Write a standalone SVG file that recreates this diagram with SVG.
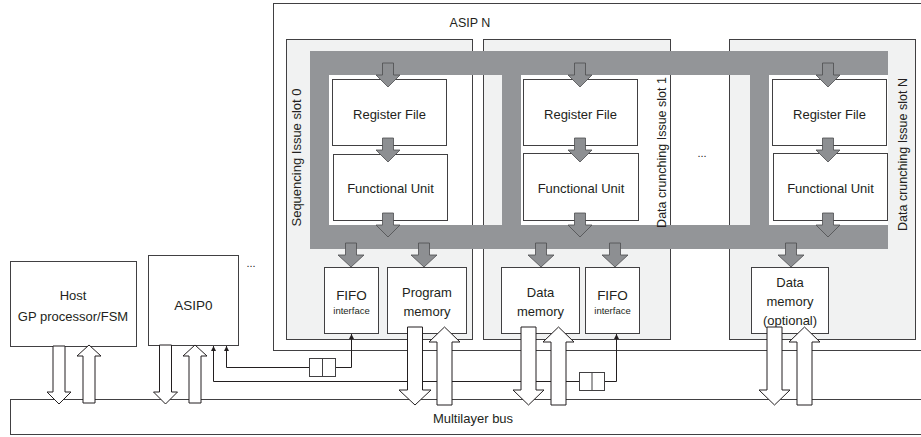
<svg xmlns="http://www.w3.org/2000/svg" xmlns:xlink="http://www.w3.org/1999/xlink" width="921" height="437" viewBox="0 0 921 437">
<style>
text{font-family:"Liberation Sans",Arial,sans-serif;fill:#231f20;font-size:13px;text-anchor:middle}
.box{fill:#fff;stroke:#414042;stroke-width:1}
.slot{fill:#f1f2f2;stroke:#414042;stroke-width:1}
.bar{fill:#939598}
.inner{fill:#fff}
.ga{fill:#8d8f92;stroke:#4d4d4f;stroke-width:0.8}
.wa{fill:#fff;stroke:#231f20;stroke-width:1}
.ln{fill:none;stroke:#231f20;stroke-width:1}
.sm{font-size:9.5px}
</style>
<defs>
<path id="gat" d="M-5.5,-24 H5.5 V-12 H12 L0,0 L-12,-12 H-5.5 Z"/>
<path id="gab" d="M-5.5,-24 H5.5 V-12 H13 L0,0 L-13,-12 H-5.5 Z"/>
<marker id="ah" viewBox="0 0 10 10" refX="10" refY="5" markerWidth="6" markerHeight="5" orient="auto" markerUnits="userSpaceOnUse"><path d="M0,0 L10,5 L0,10 Z" fill="#231f20"/></marker>
</defs>

<g id="bus">
<rect x="10.5" y="399.5" width="920" height="35" class="box"/>
<text x="473" y="423">Multilayer bus</text>
</g>

<g id="asipN">
<rect x="273.5" y="3.5" width="660" height="347" class="box"/>
<text x="470" y="27" style="font-size:12.5px">ASIP N</text>
</g>

<g id="slot0">
<rect x="286.5" y="39.5" width="186" height="300" class="slot"/>
</g>
<g id="slot1">
<rect x="483.5" y="39.5" width="187" height="300" class="slot"/>
</g>
<g id="slotN">
<rect x="729.5" y="39.5" width="186" height="300" class="slot"/>
</g>

<g id="pipeline">
<rect x="329" y="75" width="143" height="150" class="inner"/>
<rect x="521" y="75" width="149" height="150" class="inner"/>
<rect x="769" y="75" width="119" height="150" class="inner"/>
<rect x="310" y="51" width="578" height="24" class="bar"/>
<rect x="310" y="225" width="578" height="24" class="bar"/>
<rect x="310" y="51" width="19" height="198" class="bar"/>
<rect x="502" y="51" width="19" height="198" class="bar"/>
<rect x="750" y="51" width="19" height="198" class="bar"/>
</g>

<text transform="translate(301,157.5) rotate(-90)">Sequencing Issue slot 0</text>
<text transform="translate(665.5,152.5) rotate(-90)" style="font-size:12.5px">Data crunching Issue slot 1</text>
<text transform="translate(907,154.5) rotate(-90)" style="font-size:12.5px">Data crunching Issue slot N</text>
<text x="702" y="157" style="font-size:11px">...</text>

<g id="rf0"><rect x="332.5" y="79.5" width="114" height="66" class="box"/><text x="389.5" y="118.5">Register File</text></g>
<g id="fu0"><rect x="333.5" y="154.5" width="114" height="66" class="box"/><text x="390.5" y="193">Functional Unit</text></g>
<g id="rf1"><rect x="523.5" y="79.5" width="114" height="66" class="box"/><text x="580.5" y="118.5">Register File</text></g>
<g id="fu1"><rect x="523.5" y="153.5" width="115" height="67" class="box"/><text x="581" y="193">Functional Unit</text></g>
<g id="rfN"><rect x="772.5" y="79.5" width="114" height="66" class="box"/><text x="829.5" y="118.5">Register File</text></g>
<g id="fuN"><rect x="773.5" y="153.5" width="114" height="67" class="box"/><text x="830.5" y="193">Functional Unit</text></g>

<g id="fifo0"><rect x="324.5" y="267.5" width="54" height="66" class="box"/><text x="351.5" y="300" style="font-size:13.5px">FIFO</text><text x="351.5" y="314" class="sm">interface</text></g>
<g id="pmem"><rect x="387.5" y="267.5" width="79" height="66" class="box"/><text x="427" y="297">Program</text><text x="427" y="316">memory</text></g>
<g id="dmem1"><rect x="501.5" y="267.5" width="78" height="66" class="box"/><text x="540.5" y="297">Data</text><text x="540.5" y="316">memory</text></g>
<g id="fifo1"><rect x="585.5" y="267.5" width="54" height="66" class="box"/><text x="612.5" y="299.5" style="font-size:13.5px">FIFO</text><text x="612.5" y="314" class="sm">interface</text></g>
<g id="dmemN"><rect x="751.5" y="267.5" width="77" height="66" class="box"/><text x="790" y="287">Data</text><text x="790" y="306">memory</text><text x="790" y="325">(optional)</text></g>

<g id="host"><rect x="10.5" y="261.5" width="126" height="85" class="box"/><text x="73" y="300">Host</text><text x="73" y="321">GP processor/FSM</text></g>
<g id="asip0"><rect x="148.5" y="255.5" width="90" height="90" class="box"/><text x="193.5" y="310" style="font-size:13.5px">ASIP0</text></g>
<text x="251" y="267" style="font-size:11px">...</text>

<g id="connectors">
<use xlink:href="#gat" x="388" y="87" class="ga"/>
<use xlink:href="#gat" x="388" y="162" class="ga"/>
<use xlink:href="#gat" x="388" y="237" class="ga"/>
<use xlink:href="#gat" x="580" y="87" class="ga"/>
<use xlink:href="#gat" x="580" y="162" class="ga"/>
<use xlink:href="#gat" x="580" y="237" class="ga"/>
<use xlink:href="#gat" x="828" y="87" class="ga"/>
<use xlink:href="#gat" x="828" y="162" class="ga"/>
<use xlink:href="#gat" x="828" y="237" class="ga"/>
<use xlink:href="#gab" x="351" y="267" class="ga"/>
<use xlink:href="#gab" x="424" y="267" class="ga"/>
<use xlink:href="#gab" x="541" y="267" class="ga"/>
<use xlink:href="#gab" x="615" y="267" class="ga"/>
<use xlink:href="#gab" x="791" y="267" class="ga"/>

<path class="ln" d="M309,367.5 H226.5 V346" marker-end="url(#ah)"/>
<path class="ln" d="M335,367.5 H351.5 V334" marker-end="url(#ah)"/>
<path class="ln" d="M579,381.5 H213.5 V346" marker-end="url(#ah)"/>
<path class="ln" d="M604,381.5 H616.5 V334" marker-end="url(#ah)"/>
<g class="box">
<rect x="309.5" y="358.5" width="26" height="18"/>
<line x1="322.5" y1="358.5" x2="322.5" y2="376.5"/>
<rect x="579.5" y="372.5" width="25" height="18"/>
<line x1="592" y1="372.5" x2="592" y2="390.5"/>
</g>

<path class="wa" d="M53,346 H65 V392 H71 L59,404 L47,392 H53 Z"/>
<path class="wa" d="M83,403 H95 V356 H101 L89,345 L77,356 H83 Z"/>
<path class="wa" d="M159.5,345 H171.5 V392 H177.5 L165.5,404 L153.5,392 H159.5 Z"/>
<path class="wa" d="M189,403 H201 V356 H207 L195,345 L183,356 H189 Z"/>
<path class="wa" d="M407.5,327 H422.5 V390 H431 L415,405 L399,390 H407.5 Z"/>
<path class="wa" d="M437,405 H452 V342 H460 L444.5,327 L429,342 H437 Z"/>
<path class="wa" d="M521,327 H536 V390 H544 L528.5,405 L513,390 H521 Z"/>
<path class="wa" d="M551,405 H566 V342 H574 L558.5,327 L543,342 H551 Z"/>
<path class="wa" d="M767,327 H782 V390 H790 L774.5,405 L759,390 H767 Z"/>
<path class="wa" d="M797,405 H812 V342 H820 L804.5,327 L789,342 H797 Z"/>
</g>
</svg>
